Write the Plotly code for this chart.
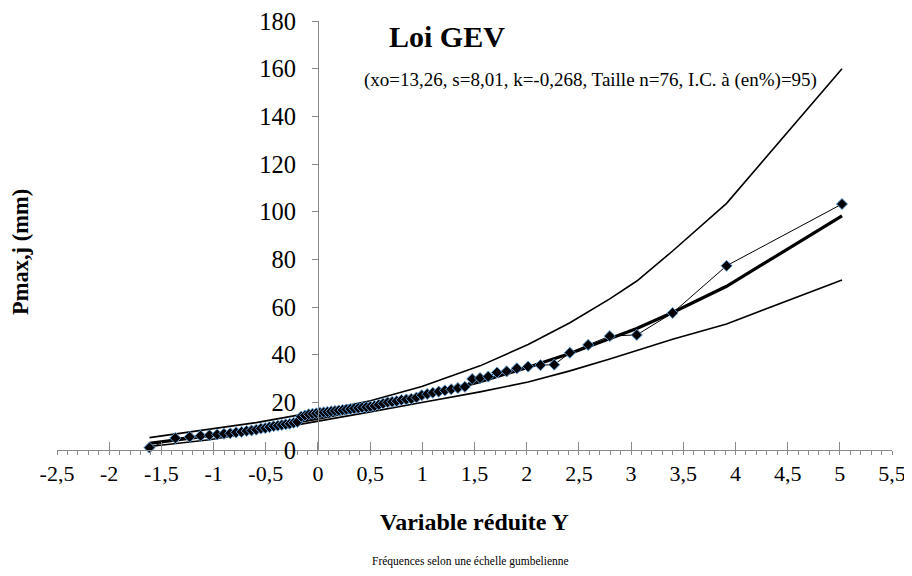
import plotly.graph_objects as go

# Gumbel reduced variable of each observation (Hazen plotting positions, n=76)
y_obs = [-1.614, -1.367, -1.228, -1.124, -1.039, -0.965, -0.900, -0.840, -0.784, -0.732,
         -0.683, -0.636, -0.591, -0.547, -0.505, -0.464, -0.424, -0.384, -0.346, -0.308,
         -0.270, -0.233, -0.197, -0.160, -0.124, -0.088, -0.052, -0.016, 0.019, 0.055,
         0.091, 0.127, 0.163, 0.199, 0.236, 0.273, 0.310, 0.348, 0.386, 0.424,
         0.463, 0.503, 0.543, 0.583, 0.625, 0.668, 0.711, 0.755, 0.800, 0.847,
         0.895, 0.944, 0.995, 1.047, 1.101, 1.157, 1.216, 1.277, 1.341, 1.408,
         1.478, 1.553, 1.632, 1.716, 1.808, 1.906, 2.014, 2.132, 2.264, 2.414,
         2.589, 2.796, 3.055, 3.398, 3.915, 5.021]
# Observed daily maximum rainfall (mm)
p_obs = [1.0, 5.0, 5.5, 6.0, 6.2, 6.5, 6.8, 7.0, 7.4, 7.6,
         8.0, 8.2, 8.5, 9.0, 9.2, 9.6, 10.0, 10.2, 10.5, 10.8,
         11.0, 11.4, 11.8, 14.0, 14.5, 15.0, 15.2, 15.4, 15.6, 15.8,
         16.0, 16.2, 16.4, 16.6, 16.8, 17.0, 17.2, 17.4, 17.6, 17.8,
         18.0, 18.2, 18.5, 19.0, 19.5, 20.0, 20.2, 20.5, 21.0, 21.2,
         21.5, 22.0, 23.0, 23.5, 24.0, 24.5, 25.0, 25.5, 26.0, 26.5,
         29.8, 30.2, 30.8, 32.5, 33.0, 34.3, 35.0, 35.6, 35.8, 40.8,
         44.1, 47.8, 48.3, 57.5, 77.3, 103.2]

# Fitted GEV quantiles and 95% confidence bounds at selected reduced variables
y_fit = [-1.614, -1.039, -0.591, -0.016, 0.503, 0.995, 1.553, 2.014, 2.414, 2.796,
         3.055, 3.398, 3.915, 5.021]
p_fit = [2.8, 6.0, 8.9, 13.1, 17.6, 22.4, 28.7, 34.7, 40.5, 46.6,
         51.0, 57.7, 68.7, 98.2]
p_upper = [5.2, 8.7, 11.5, 16.0, 20.7, 26.6, 35.3, 44.3, 53.4, 63.4,
           70.9, 83.5, 103.5, 160.0]
p_lower = [1.5, 4.3, 7.5, 11.8, 16.0, 19.9, 24.4, 28.5, 33.2, 38.2,
           41.8, 46.5, 52.9, 71.3]

x_tickvals = [-2.5, -2, -1.5, -1, -0.5, 0, 0.5, 1, 1.5, 2, 2.5, 3, 3.5, 4, 4.5, 5, 5.5]
x_ticktext = ["-2,5", "-2", "-1,5", "-1", "-0,5", "0", "0,5", "1", "1,5", "2",
              "2,5", "3", "3,5", "4", "4,5", "5", "5,5"]
y_tickvals = [0, 20, 40, 60, 80, 100, 120, 140, 160, 180]

FONT = "Liberation Serif, Times New Roman, DejaVu Serif, serif"
AXC = "#898989"
X_MIN, X_MAX = -2.5, 5.5

fig = go.Figure()
fig.add_trace(go.Scatter(x=y_fit, y=p_upper, mode="lines",
                         line=dict(color="black", width=1.6), cliponaxis=False))
fig.add_trace(go.Scatter(x=y_fit, y=p_lower, mode="lines",
                         line=dict(color="black", width=1.6), cliponaxis=False))
fig.add_trace(go.Scatter(x=y_fit, y=p_fit, mode="lines",
                         line=dict(color="black", width=3.2), cliponaxis=False))
fig.add_trace(go.Scatter(x=y_obs, y=p_obs, mode="lines+markers",
                         line=dict(color="black", width=1),
                         marker=dict(symbol="diamond", size=8.5, color="black",
                                     line=dict(color="#5B9BD5", width=1)),
                         cliponaxis=False))
# invisible trace to activate the overlay axis carrying the inner tick marks
fig.add_trace(go.Scatter(x=[X_MIN], y=[0], xaxis="x2", mode="markers",
                         marker=dict(opacity=0), hoverinfo="skip"))

# the page body has an 8 px margin, so the figure is 8 px smaller than the window
fig.update_layout(
    width=904, height=568,
    margin=dict(l=49, r=20, t=13, b=126, autoexpand=False),
    paper_bgcolor="white", plot_bgcolor="white",
    showlegend=False,
    font=dict(family=FONT, color="black"),
    xaxis=dict(range=[X_MIN, X_MAX], tickvals=x_tickvals, ticktext=x_ticktext,
               automargin=False, ticklabeloverflow="allow",
               showgrid=False, zeroline=False, showline=True, linecolor=AXC, linewidth=1,
               ticks="outside", ticklen=4, tickcolor=AXC, tickwidth=1,
               minor=dict(dtick=0.1, ticks="outside", ticklen=4, tickcolor=AXC, showgrid=False),
               tickfont=dict(family=FONT, size=22, color="black")),
    xaxis2=dict(range=[X_MIN, X_MAX], overlaying="x", anchor="y", side="bottom",
                automargin=False,
                tickvals=x_tickvals, showticklabels=False, showgrid=False, zeroline=False,
                showline=False, ticks="inside", ticklen=8, tickcolor=AXC, tickwidth=1),
    yaxis=dict(range=[0, 180], tickvals=y_tickvals, automargin=False,
               ticklabeloverflow="allow",
               anchor="free", position=(0 - X_MIN) / (X_MAX - X_MIN),
               showgrid=False, zeroline=False, showline=True, linecolor=AXC, linewidth=1,
               ticks="outside", ticklen=6, tickcolor=AXC, tickwidth=1,
               ticklabelstandoff=11,
               tickfont=dict(family=FONT, size=24.5, color="black")),
    annotations=[
        dict(text="<b>Loi GEV</b>", x=0.467, y=0.965, xref="paper", yref="paper",
             showarrow=False, font=dict(family=FONT, size=30, color="black"),
             xanchor="center", yanchor="middle"),
        dict(text="(xo=13,26, s=8,01, k=-0,268, Taille n=76, I.C. à (en%)=95)",
             x=0.639, y=0.8625, xref="paper", yref="paper", showarrow=False,
             font=dict(family=FONT, size=19, color="black"),
             xanchor="center", yanchor="middle"),
        dict(text="<b>Pmax,j (mm)</b>", x=-0.0443, y=0.4615, xref="paper", yref="paper",
             textangle=-90, showarrow=False, font=dict(family=FONT, size=22.5, color="black"),
             xanchor="center", yanchor="middle"),
        dict(text="<b>Variable réduite Y</b>", x=0.5, y=-0.168, xref="paper", yref="paper",
             showarrow=False, font=dict(family=FONT, size=24, color="black"),
             xanchor="center", yanchor="middle"),
        dict(text="Fréquences selon une échelle gumbelienne", x=0.495, y=-0.261,
             xref="paper", yref="paper", showarrow=False,
             font=dict(family=FONT, size=11.5, color="black"),
             xanchor="center", yanchor="middle"),
    ],
)

fig.write_html("out.html")
